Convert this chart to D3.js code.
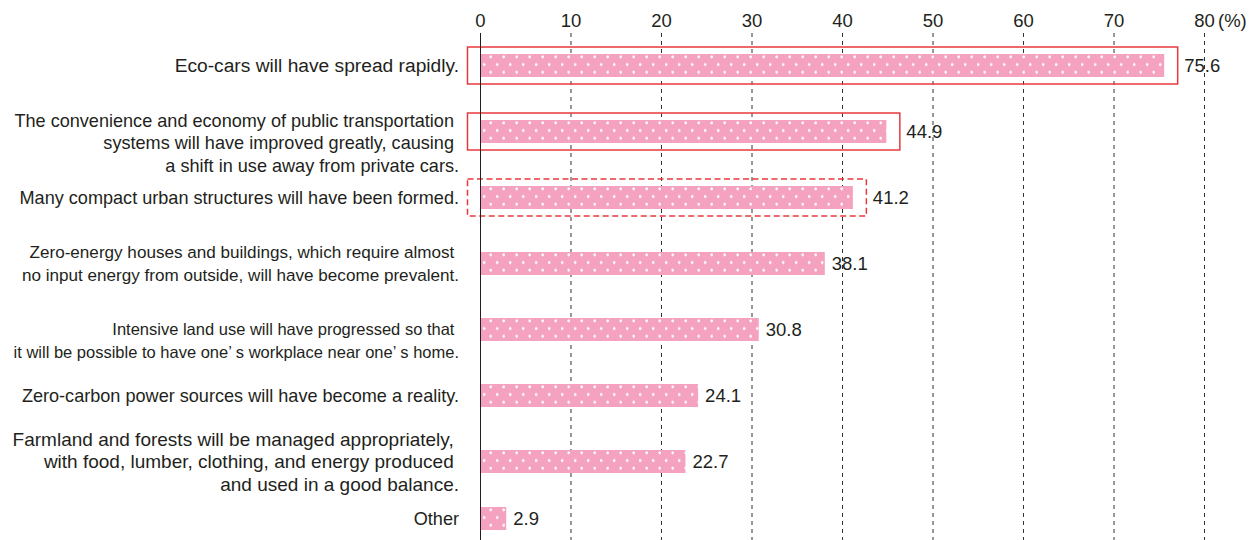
<!DOCTYPE html>
<html>
<head>
<meta charset="utf-8">
<script src="https://cdn.jsdelivr.net/npm/d3@7/dist/d3.min.js"></script>
<style>
  html, body { margin: 0; padding: 0; background: #fff; }
  svg { display: block; }
  text { font-family: "Liberation Sans", Arial, Helvetica, sans-serif; fill: #231f20; }
</style>
</head>
<body>
<svg id="chart" width="1257" height="540"></svg>
<script>
// Survey answers (multi-line labels split on "\n") and shares in percent
const categories = [
  "Eco-cars will have spread rapidly.",
  "The convenience and economy of public transportation \nsystems will have improved greatly, causing \na shift in use away from private cars.",
  "Many compact urban structures will have been formed.",
  "Zero-energy houses and buildings, which require almost \nno input energy from outside, will have become prevalent.",
  "Intensive land use will have progressed so that \nit will be possible to have one’ s workplace near one’ s home.",
  "Zero-carbon power sources will have become a reality.",
  "Farmland and forests will be managed appropriately, \nwith food, lumber, clothing, and energy produced \nand used in a good balance.",
  "Other"
];
const values = [75.6, 44.9, 41.2, 38.1, 30.8, 24.1, 22.7, 2.9];
const tickValues = [0, 10, 20, 30, 40, 50, 60, 70, 80];
const unitLabel = "(%)";

// Emphasis frames drawn around selected answers
const solidFrames = [0, 1];
const dashedFrames = [2];

const svg = d3.select("#chart");
const W = 1257, H = 540;

const x = d3.scaleLinear().domain([0, 80]).range([480, 1204]);

// Row centres: regular spacing, last row ("Other") a little tighter
const rowStep = 66, firstRow = 65.5, lastGap = 57;
const y = d3.scaleOrdinal()
  .domain(categories)
  .range(categories.map((_, i) => i < categories.length - 1
    ? firstRow + rowStep * i
    : firstRow + rowStep * (categories.length - 2) + lastGap));
const barH = 23;

const pink = "#f4a2bf";
const red = "#e8383d";

// Dotted fill, one pattern per bar so the dots start at each bar's top edge
const defs = svg.append("defs");
categories.forEach((c, i) => {
  const p = defs.append("pattern")
    .attr("id", "dots" + i)
    .attr("patternUnits", "userSpaceOnUse")
    .attr("x", x(0)).attr("y", y(c) - barH / 2)
    .attr("width", 13).attr("height", 15.4);
  p.append("rect").attr("width", 13).attr("height", 15.4).attr("fill", pink);
  p.append("circle").attr("cx", 10.7).attr("cy", 2.9).attr("r", 1.35).attr("fill", "#fff");
  p.append("circle").attr("cx", 4.2).attr("cy", 10.6).attr("r", 1.35).attr("fill", "#fff");
});

// Dashed gridlines
const gridTop = 33;
svg.append("g").selectAll("line")
  .data(tickValues.filter(t => t > 0))
  .join("line")
  .attr("x1", d => x(d) + 0.5).attr("x2", d => x(d) + 0.5)
  .attr("y1", gridTop).attr("y2", H)
  .attr("stroke", "#333").attr("stroke-width", 1)
  .attr("stroke-dasharray", "4,4");

// Top axis labels
const axis = d3.axisTop(x).tickValues(tickValues).tickSize(0).tickPadding(0);
const gAxis = svg.append("g").attr("transform", "translate(0,27)").call(axis);
gAxis.select(".domain").remove();
gAxis.selectAll("text")
  .style("font-family", '"Liberation Sans", Arial, sans-serif')
  .style("font-size", "18.5px").attr("fill", "#231f20");
svg.append("text")
  .attr("x", x(80) + 14).attr("y", 27)
  .style("font-size", "18.5px")
  .text(unitLabel);

// Bars
svg.append("g").selectAll("rect")
  .data(categories)
  .join("rect")
  .attr("x", x(0))
  .attr("y", d => y(d) - barH / 2)
  .attr("width", (d, i) => x(values[i]) - x(0))
  .attr("height", barH)
  .attr("fill", (d, i) => `url(#dots${i})`);

// Frames
const pad = 13, vpad = 7;
function frame(i, dashed) {
  const c = categories[i];
  svg.append("rect")
    .attr("x", x(0) - pad + 0.5)
    .attr("y", y(c) - barH / 2 - vpad)
    .attr("width", x(values[i]) - x(0) + 2 * pad)
    .attr("height", barH + 2 * vpad)
    .attr("fill", "none")
    .attr("stroke", red)
    .attr("stroke-width", 1.5)
    .attr("stroke-dasharray", dashed ? "6,3.5" : null);
}
solidFrames.forEach(i => frame(i, false));
dashedFrames.forEach(i => frame(i, true));

// Zero line
svg.append("line")
  .attr("x1", x(0) + 0.5).attr("x2", x(0) + 0.5)
  .attr("y1", gridTop).attr("y2", H)
  .attr("stroke", "#231f20").attr("stroke-width", 1);

// Value labels
const framed = new Set([...solidFrames, ...dashedFrames]);
svg.append("g").selectAll("text")
  .data(categories)
  .join("text")
  .attr("x", (d, i) => x(values[i]) + (framed.has(i) ? pad + 7 : 7))
  .attr("y", d => y(d))
  .attr("dy", "0.36em")
  .style("font-size", "18.5px")
  .text((d, i) => values[i].toFixed(1));

// Category labels, right aligned against the axis
const lineGap = 22.5;
const labelShift = { 1: 11, 4: 11 };
const labelSize = { 0: 19.2, 3: 17.1, 4: 16.5, 6: 19 };
const gLab = svg.append("g");
categories.forEach((c, i) => {
  const lines = c.split("\n");
  const cy = y(c) + (labelShift[i] || 0);
  const t = gLab.append("text")
    .attr("text-anchor", "end")
    .style("white-space", "pre")
    .style("font-size", (labelSize[i] || 18.1) + "px");
  lines.forEach((ln, k) => {
    t.append("tspan")
      .attr("x", 459)
      .attr("y", cy + (k - (lines.length - 1) / 2) * lineGap)
      .attr("dy", "0.36em")
      .text(ln);
  });
});
</script>
</body>
</html>
